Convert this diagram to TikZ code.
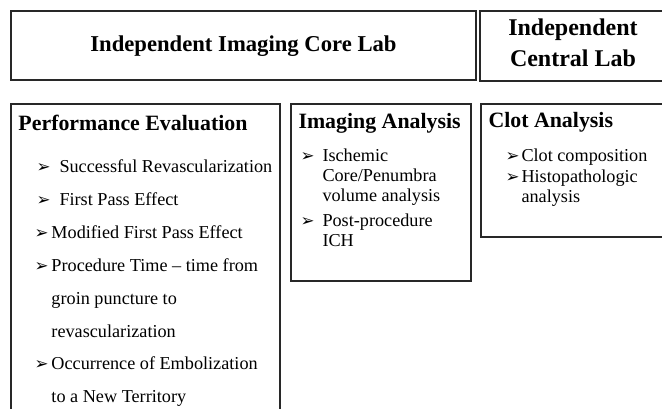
\documentclass[tikz,border=0pt]{standalone}
\usepackage{fontspec}
\setmainfont{Liberation Serif}
\newfontfamily\symfont{DejaVu Sans}
% arrowhead bullet, hung to the left of the item text
\newcommand\bul{{\symfont\bfseries\fontsize{12.5}{15}\selectfont ➢}}
\newcommand\bitem[1]{\llap{\makebox[#1][l]{\bul}}}

\tikzset{every picture/.style={line width=0.75pt}}
\tikzset{
  labbox/.style={draw={rgb, 255:red, 40; green, 40; blue, 40}, line width=1.1pt},
  labtitle/.style={anchor=base, inner sep=0pt, align=center, font=\bfseries\fontsize{17}{23.25}\selectfont},
  subhead/.style={anchor=base west, inner sep=0pt, font=\bfseries\fontsize{16.4}{20}\selectfont},
  itemtext/.style={anchor=base west, inner sep=0pt, align=left, font=\fontsize{13.65}{15}\selectfont},
  wideitem/.style={itemtext, font=\fontsize{13.65}{24.75}\selectfont}
}

\begin{document}
\begin{tikzpicture}[x=0.75pt,y=0.75pt,yscale=-1,xscale=1]
\clip (0,0) rectangle (662,409);
% multi-line nodes: base is the baseline of their last line

%Shape: Rectangle [core lab]
\draw [labbox] (11,11) rectangle (476,80) ;
%Shape: Rectangle [central lab]
\draw [labbox] (480,11) rectangle (690,81) ;
%Shape: Rectangle [performance]
\draw [labbox] (11,104) rectangle (280,440) ;
%Shape: Rectangle [imaging]
\draw [labbox] (291,104) rectangle (471,281) ;
%Shape: Rectangle [clot]
\draw [labbox] (481,104) rectangle (690,237) ;

% Text Node
\draw (243.5,51.7) node (coretitle) [labtitle] {Independent Imaging Core Lab};
% Text Node
\draw (573,66.7) node (centraltitle) [labtitle, font=\bfseries\fontsize{18}{23.25}\selectfont] {Independent\\Central Lab};

% Text Node
\draw (18,131) node (perfhead) [subhead] {Performance Evaluation};
% Text Node
\draw (59,172.5) node (perfa) [itemtext] {\bitem{17.25pt}Successful Revascularization};
% Text Node
\draw (59,205.5) node (perfb) [itemtext] {\bitem{17.25pt}First Pass Effect};
% Text Node
\draw (51,238.5) node (perfc) [itemtext] {\bitem{12.75pt}Modified First Pass Effect};
% Text Node
\draw (51,337.5) node (perfd) [wideitem] {\bitem{12.75pt}Procedure Time – time from\\groin puncture to\\revascularization};
% Text Node
\draw (51,403) node (perfe) [wideitem] {\bitem{12.75pt}Occurrence of Embolization\\to a New Territory};

% Text Node
\draw (298,129) node (imghead) [subhead] {Imaging Analysis};
% Text Node
\draw (322,201.7) node (imga) [itemtext] {\bitem{16.5pt}Ischemic\\Core/Penumbra\\volume analysis};
% Text Node
\draw (322,246.7) node (imgb) [itemtext] {\bitem{16.5pt}Post-procedure\\ICH};

% Text Node
\draw (488,127.7) node (clothead) [subhead] {Clot Analysis};
% Text Node
\draw (521,162) node (clota) [itemtext] {\bitem{12pt}Clot composition};
% Text Node
\draw (521,203) node (clotb) [itemtext] {\bitem{12pt}Histopathologic\\analysis};

\end{tikzpicture}
\end{document}
